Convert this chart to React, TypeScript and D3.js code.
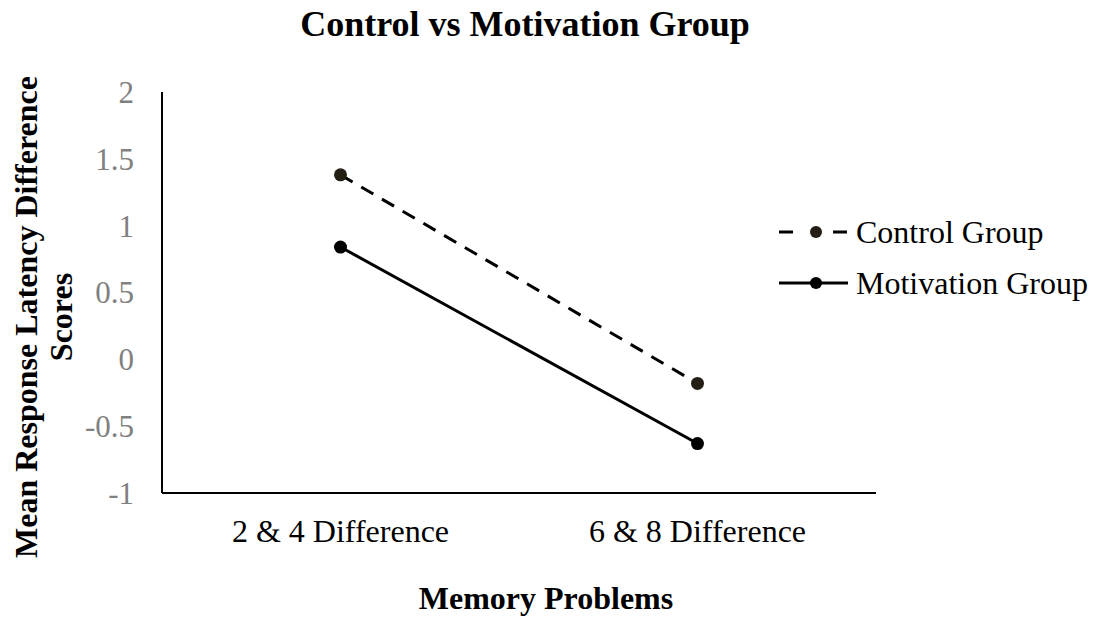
import * as d3 from 'd3';
import React, { useEffect, useRef } from 'react';

const categories = ['2 & 4 Difference', '6 & 8 Difference'];
const controlValues = [1.38, -0.18];
const motivationValues = [0.84, -0.63];
const yTicks = [-1, -0.5, 0, 0.5, 1, 1.5, 2];
const seriesNames = ['Control Group', 'Motivation Group'];

export default function App() {
  const svgRef = useRef<SVGSVGElement | null>(null);

  useEffect(() => {
    const width = 1100;
    const height = 622;
    const font = '"Liberation Serif", "Times New Roman", serif';

    const svg = d3.select(svgRef.current);
    svg.selectAll('*').remove();
    svg.attr('width', width).attr('height', height);

    // plot area
    const left = 162;
    const right = 876;
    const top = 92;
    const bottom = 493;

    const x = d3.scaleBand().domain(categories).range([left, right]);
    const y = d3.scaleLinear().domain([-1, 2]).range([bottom, top]);

    // title
    svg
      .append('text')
      .attr('x', 525)
      .attr('y', 36)
      .attr('text-anchor', 'middle')
      .style('font-family', font)
      .style('font-size', '36px')
      .style('font-weight', 'bold')
      .text('Control vs Motivation Group');

    // axis lines
    svg
      .append('line')
      .attr('x1', left)
      .attr('x2', left)
      .attr('y1', top)
      .attr('y2', bottom)
      .attr('stroke', '#000')
      .attr('stroke-width', 2);
    svg
      .append('line')
      .attr('x1', left)
      .attr('x2', right)
      .attr('y1', bottom)
      .attr('y2', bottom)
      .attr('stroke', '#000')
      .attr('stroke-width', 2);

    // y tick labels
    svg
      .selectAll('.ytick')
      .data(yTicks)
      .enter()
      .append('text')
      .attr('class', 'ytick')
      .attr('x', 134)
      .attr('y', (d) => y(d))
      .attr('dy', '0.35em')
      .attr('text-anchor', 'end')
      .attr('fill', '#808080')
      .style('font-family', font)
      .style('font-size', '31px')
      .text((d) => String(d));

    // x category labels
    svg
      .selectAll('.xtick')
      .data(categories)
      .enter()
      .append('text')
      .attr('class', 'xtick')
      .attr('x', (d) => x(d)! + x.bandwidth() / 2)
      .attr('y', 542)
      .attr('text-anchor', 'middle')
      .style('font-family', font)
      .style('font-size', '32px')
      .text((d) => d);

    // axis titles
    svg
      .append('text')
      .attr('x', 546)
      .attr('y', 609)
      .attr('text-anchor', 'middle')
      .style('font-family', font)
      .style('font-size', '32px')
      .style('font-weight', 'bold')
      .text('Memory Problems');

    const yTitle = svg
      .append('text')
      .attr('transform', 'translate(37,317) rotate(-90)')
      .attr('text-anchor', 'middle')
      .style('font-family', font)
      .style('font-size', '32px')
      .style('font-weight', 'bold');
    yTitle.append('tspan').attr('x', 0).attr('dy', 0).text('Mean Response Latency Difference');
    yTitle.append('tspan').attr('x', 0).attr('dy', 35).text('Scores');

    const line = d3
      .line<number>()
      .x((_, i) => x(categories[i])! + x.bandwidth() / 2)
      .y((d) => y(d));

    const series = [
      { name: seriesNames[0], values: controlValues, dash: '14,10', color: '#231f14' },
      { name: seriesNames[1], values: motivationValues, dash: null, color: '#000' }
    ];

    series.forEach((s, si) => {
      svg
        .append('path')
        .attr('d', line(s.values))
        .attr('fill', 'none')
        .attr('stroke', '#000')
        .attr('stroke-width', 3)
        .attr('stroke-dasharray', s.dash);
      svg
        .selectAll('.pt' + si)
        .data(s.values)
        .enter()
        .append('circle')
        .attr('cx', (_, i) => x(categories[i])! + x.bandwidth() / 2)
        .attr('cy', (d) => y(d))
        .attr('r', 6.5)
        .attr('fill', s.color);

      // legend
      const ly = 232 + si * 51;
      svg
        .append('line')
        .attr('x1', 779)
        .attr('x2', 848)
        .attr('y1', ly)
        .attr('y2', ly)
        .attr('stroke', '#000')
        .attr('stroke-width', 3)
        .attr('stroke-dasharray', s.dash ? '14,40' : null);
      svg
        .append('circle')
        .attr('cx', 816)
        .attr('cy', ly)
        .attr('r', 6)
        .attr('fill', s.color);
      svg
        .append('text')
        .attr('x', 856)
        .attr('y', ly)
        .attr('dy', '0.35em')
        .style('font-family', font)
        .style('font-size', '32px')
        .text(s.name);
    });
  }, []);

  return (
    <div style={{ position: 'absolute', left: 0, top: 0 }}>
      <svg ref={svgRef} />
    </div>
  );
}
